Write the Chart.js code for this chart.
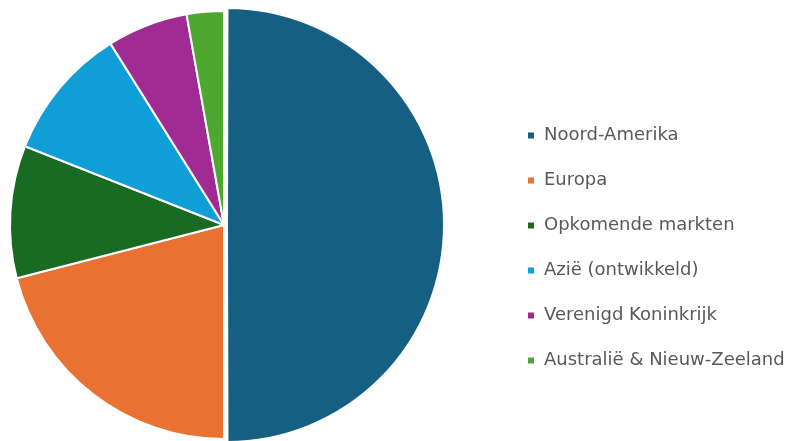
<!DOCTYPE html>
<html>
<head>
<meta charset="utf-8">
<script src="https://cdn.jsdelivr.net/npm/chart.js@4.4.0/dist/chart.umd.min.js"></script>
<style>
  html, body { margin: 0; padding: 0; background: #fff; overflow: hidden; }
  #wrap { width: 800px; height: 441px; overflow: hidden; }
</style>
</head>
<body>
<div id="wrap"><canvas id="chart" width="800" height="446"></canvas></div>
<script>
const regions = ['Noord-Amerika', 'Europa', 'Opkomende markten', 'Azië (ontwikkeld)', 'Verenigd Koninkrijk', 'Australië & Nieuw-Zeeland'];
const shares = [50.0, 21.0, 10.0, 10.1, 6.1, 2.8];
const sliceColors = ['#156082', '#E97132', '#196B24', '#0F9ED5', '#A02B93', '#4EA72E'];

// force the legend to take the right part of the canvas, then nudge it
const legendPlacer = {
  id: 'legendPlacer',
  beforeInit(chart) {
    const fit = chart.legend.fit;
    chart.legend.fit = function () {
      fit.bind(chart.legend)();
      this.width = 352;
    };
  },
  afterLayout(chart) {
    const lg = chart.legend;
    lg.left += 52;
    lg.right += 52;
    lg.top += 23;
    lg.bottom += 23;
  }
};

new Chart(document.getElementById('chart').getContext('2d'), {
  type: 'pie',
  data: {
    labels: regions,
    datasets: [{
      data: shares,
      backgroundColor: sliceColors,
      borderColor: '#ffffff',
      borderWidth: 2,
      offset: [12, 0, 0, 0, 0, 0],
    }],
  },
  options: {
    responsive: false,
    animation: false,
    layout: { padding: { top: 4, bottom: 0, left: 0, right: 0 } },
    plugins: {
      tooltip: { enabled: false },
      legend: {
        position: 'right',
        labels: {
          boxWidth: 8,
          boxHeight: 8,
          padding: 27,
          color: '#595959',
          font: { family: 'DejaVu Sans', size: 18 },
        },
      },
    },
  },
  plugins: [legendPlacer],
});
</script>
</body>
</html>
